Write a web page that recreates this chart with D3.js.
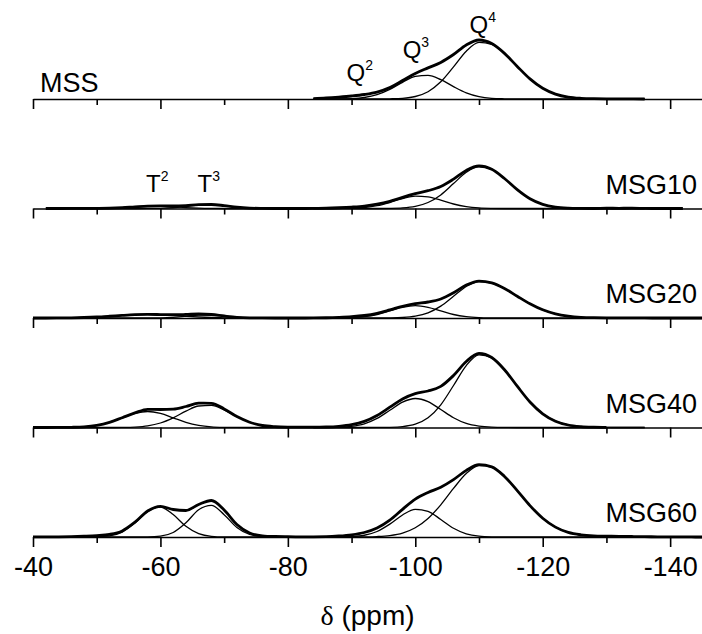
<!DOCTYPE html>
<html>
<head>
<meta charset="utf-8">
<script src="https://cdn.jsdelivr.net/npm/d3@7"></script>
<style>
  body { margin: 0; background: #fff; }
  text { font-family: "Liberation Sans", Arial, sans-serif; fill: #000; }
</style>
</head>
<body>
<div id="chart"></div>
<script>
// chemical shift grid (ppm) for the measured spectra
var ppm = [-40,-42,-44,-46,-48,-50,-52,-54,-56,-58,-60,-62,-64,-66,-68,-70,-72,-74,-76,-78,
           -80,-82,-84,-86,-88,-90,-92,-94,-96,-98,-100,-102,-104,-106,-108,-110,-112,-114,-116,-118,
           -120,-122,-124,-126,-128,-130,-132,-134,-136,-138,-140,-142,-144,-146];
// grids used by the fitted components
var tPpm = [-44,-46,-48,-50,-52,-54,-56,-58,-60,-62,-64,-66,-68,-70,-72,-74,-76,-78,-80];
var qPpm = [-84,-86,-88,-90,-92,-94,-96,-98,-100,-102,-104,-106,-108,-110,-112,-114,-116,-118,-120,-122,
            -124,-126,-128,-130,-132,-134,-136];

var samples = ["MSS", "MSG10", "MSG20", "MSG40", "MSG60"];
var xTicks = [-40, -60, -80, -100, -120, -140];

// measured spectra (null = outside recorded range)
var mssSpec = [null,null,null,null,null,null,null,null,null,null,null,null,null,null,null,null,null,null,null,null,null,null,
  0.4,1.0,1.9,3.0,4.5,6.9,11.4,18.4,25.5,31.1,36.6,44.5,54.0,59.0,55.4,45.6,32.6,20.1,10.7,4.9,1.9,0.7,0.3,0.2,0.1,0.1,0,
  null,null,null,null,null];
var msg10Spec = [null,0,
  0,0.05,0.1,0.2,0.4,0.9,1.7,2.4,2.6,2.5,2.9,3.8,4.0,2.85,1.3,0.4,0.1,0,0,
  0,
  0.1,0.3,0.75,1.4,2.4,4.3,7.2,11.2,14.8,17.8,22.0,29.4,38.1,42.5,39.2,30.0,18.8,9.7,4.1,1.4,0.4,0.1,0,0.3,0.2,0.3,0.1,
  0,0,0,null,null];
var msg20Spec = [0,0,
  0.1,0.2,0.5,1.0,1.75,2.6,3.3,3.6,3.45,3.25,3.55,4.0,3.5,2.0,0.7,0.16,0.05,0,0,
  0,
  0.1,0.26,0.65,1.3,2.5,4.7,8.1,11.75,14.4,16.0,19.0,25.2,32.9,36.9,35.1,29.5,21.8,14.3,8.2,4.2,1.9,0.7,0.3,0.2,0.1,0.2,0.1,
  0,0,0,0,0];
var msg40Spec = [0,0,
  0.03,0.2,0.7,2.2,5.2,9.8,14.55,18.2,18.0,18.4,21.0,24.3,24.2,18.6,10.9,5.3,2.0,0.8,0.4,
  0.3,
  0.3,0.5,1.2,2.8,6.1,12.0,20.3,28.6,33.9,36.5,41.1,52.0,66.0,74.1,70.0,57.8,41.3,25.5,13.7,6.3,2.5,0.9,0.3,0.1,null,null,null,
  null,null,null,null,null];
var msg60Spec = [0.1,0.1,
  0.2,0.4,0.8,1.4,2.6,6.1,14.8,26.0,30.7,27.5,26.5,32.5,36.5,27.0,12.5,4.0,1.2,0.5,0.3,
  0.2,
  0.2,0.35,1.0,2.2,4.5,9.0,16.9,27.7,37.8,44.5,49.8,57.4,66.6,72.3,70.2,60.6,46.4,31.4,18.8,9.9,4.6,2.2,1.2,0.9,0.7,0.5,0.3,
  0.2,0.1,0.1,0,0];

// fitted components, T region (on tPpm)
var msg10T2 = [0,0,0.02,0.09,0.34,0.9,1.73,2.4,2.4,1.73,0.9,0.34,0.09,0.02,0,0,0,0,0];
var msg10T3 = [0,0,0,0,0,0,0,0.03,0.18,0.75,2.0,3.5,3.94,2.83,1.3,0.38,0.07,0,0];
var msg20T2 = [0.07,0.2,0.49,1.0,1.75,2.6,3.3,3.6,3.3,2.6,1.75,1.0,0.49,0.2,0.07,0.02,0,0,0];
var msg20T3 = [0,0,0,0,0,0,0,0,0.14,0.65,1.8,3.0,3.0,1.8,0.65,0.14,0.02,0,0];
var msg40T2 = [0.03,0.18,0.7,2.2,5.2,9.7,14.1,16,14.1,9.7,5.2,2.2,0.7,0.18,0.03,0,0,0,0];
var msg40T3 = [0,0,0,0,0,0.1,0.45,1.6,4.5,9.7,16.3,21.5,22.05,17.6,10.9,5.3,2.0,0.6,0.13];
var msg60T2 = [0,0,0.015,0.16,1.1,4.9,14.0,25.5,29.85,22.4,10.7,3.3,0.65,0.08,0,0,0,0,0];
var msg60T3 = [0,0,0,0,0,0,0,0.1,0.87,4.5,14.2,27.3,31.7,22.3,9.5,2.5,0.39,0.04,0];

// fitted components, Q region (on qPpm)
var mssQ3 = [0,0,0.1,0.4,1.5,4.3,9.6,16.7,22.6,23.7,19.4,12.4,6.2,2.4,0.7,0.2,0,0,0,0,0,0,0,0,0,0,0];
var mssQ4 = [0,0,0,0,0,0,0.2,0.7,2.5,7.3,17.2,32.1,47.8,56.6,54.7,45.4,32.6,20.1,10.7,4.9,1.9,0.7,0.2,0,0,0,0];
var msg10Q3 = [0,0,0.05,0.26,1.0,2.8,6.0,9.9,12.4,11.7,8.4,4.5,1.9,0.6,0.14,0,0,0,0,0,0,0,0,0,0,0,0];
var msg10Q4 = [0,0,0,0,0,0,0.13,0.58,2.1,6.0,13.6,24.9,36.2,41.9,39.1,30.0,18.8,9.7,4.1,1.4,0.4,0.1,0,0,0,0,0];
var msg20Q3 = [0,0,0.09,0.39,1.35,3.5,7.1,10.7,12.3,10.7,7.1,3.5,1.35,0.4,0.09,0,0,0,0,0,0,0,0,0,0,0,0];
var msg20Q4 = [0,0,0,0,0,0,0.11,0.5,1.8,5.2,11.9,21.7,31.5,36.5,35.0,29.5,21.8,14.3,8.2,4.2,1.9,0.7,0.25,0.1,0,0,0];
var msg40Q3 = [0,0.06,0.3,1.2,3.7,9.1,17.2,25.3,29.0,25.9,18.0,9.8,4.1,1.4,0.35,0.06,0,0,0,0,0,0,0,0,0,0,0];
var msg40Q4 = [0,0,0,0,0,0.03,0.2,0.9,3.3,9.7,22.7,42.0,61.9,72.7,69.7,57.7,41.3,25.5,13.7,6.3,2.5,0.88,0.26,0.07,0,0,0];
var msg60Q3 = [0,0,0.07,0.4,1.74,5.5,12.85,22.0,27.7,25.7,17.5,8.75,3.2,0.87,0.17,0,0,0,0,0,0,0,0,0,0,0,0];
var msg60Q4 = [0,0,0,0.03,0.13,0.47,1.46,3.9,9.2,18.5,32.2,48.6,63.4,71.4,70.0,60.6,46.4,31.4,18.8,9.9,4.6,1.9,0.7,0.2,0.06,0,0];

// peak labels: [panel, letter, superscript, ppm, height above baseline]
var qLabels = [["MSS", "Q", "2", -91.3, 18], ["MSS", "Q", "3", -100.1, 41], ["MSS", "Q", "4", -110.6, 66]];
var tLabels = [["MSG10", "T", "2", -59.5, 17], ["MSG10", "T", "3", -67.6, 17]];

var spectra = [mssSpec, msg10Spec, msg20Spec, msg40Spec, msg60Spec];
var components = [
    [[qPpm, mssQ3], [qPpm, mssQ4]],
    [[tPpm, msg10T2], [tPpm, msg10T3], [qPpm, msg10Q3], [qPpm, msg10Q4]],
    [[tPpm, msg20T2], [tPpm, msg20T3], [qPpm, msg20Q3], [qPpm, msg20Q4]],
    [[tPpm, msg40T2], [tPpm, msg40T3], [qPpm, msg40Q3], [qPpm, msg40Q4]],
    [[tPpm, msg60T2], [tPpm, msg60T3], [qPpm, msg60Q3], [qPpm, msg60Q4]]
];

var width = 702, height = 634;
var margin = { left: 33, right: 0 };

var svg = d3.select("#chart").append("svg")
    .attr("width", width)
    .attr("height", height);

// clip in panel coordinates (each panel group is shifted to its baseline)
svg.append("clipPath").attr("id", "clip")
    .append("rect").attr("x", margin.left - 1).attr("y", -height)
    .attr("width", width - margin.left + 1).attr("height", 2 * height);

var x = d3.scaleLinear().domain([-40, -145]).range([margin.left, width - margin.right]);
// vertical position of each stacked panel baseline
var panelY = d3.scalePoint().domain(samples).range([99, 537]);
// intensity, in the same units for every panel
var y = d3.scaleLinear().domain([0, 100]).range([0, -100]);

var line = d3.line()
    .defined(function (d) { return d[1] != null; })
    .x(function (d) { return x(d[0]); })
    .y(function (d) { return y(d[1]); })
    .curve(d3.curveMonotoneX);

samples.forEach(function (name, i) {
    var g = svg.append("g")
        .attr("transform", "translate(0," + panelY(name) + ")");

    // baseline axis with ticks
    var axis = d3.axisBottom(x)
        .tickValues(d3.range(-40, -141, -10))
        .tickSize(10)
        .tickSizeOuter(0)
        .tickFormat(i == samples.length - 1 ? function (d) { return xTicks.indexOf(d) >= 0 ? d : ""; } : "");
    var ax = g.append("g").call(axis);
    ax.select(".domain").attr("stroke-width", 1.6);
    ax.selectAll(".tick line")
        .attr("stroke-width", 1.6)
        .attr("y2", function (d) { return xTicks.indexOf(d) >= 0 ? 10 : 6; });
    ax.selectAll(".tick text")
        .attr("y", 20)
        .style("font-family", "'Liberation Sans', Arial, sans-serif")
        .style("font-size", "27px")
        .attr("fill", "#000");

    var plot = g.append("g").attr("clip-path", "url(#clip)");

    // fitted components, thin
    components[i].forEach(function (c) {
        plot.append("path")
            .datum(c[0].map(function (p, k) { return [p, c[1][k]]; }))
            .attr("fill", "none")
            .attr("stroke", "#000")
            .attr("stroke-width", 1.3)
            .attr("d", line);
    });

    // measured spectrum, thick
    plot.append("path")
        .datum(ppm.map(function (p, k) { return [p, spectra[i][k]]; }))
        .attr("fill", "none")
        .attr("stroke", "#000")
        .attr("stroke-width", 2.8)
        .attr("stroke-linejoin", "round")
        .attr("d", line);

    // sample name
    var first = i == 0;
    g.append("text")
        .attr("x", first ? 40 : 697)
        .attr("y", first ? -7 : -15)
        .attr("text-anchor", first ? "start" : "end")
        .style("font-size", "27px")
        .text(name);
});

// Q / T peak labels
qLabels.concat(tLabels).forEach(function (l) {
    var t = svg.append("text")
        .attr("x", x(l[3]))
        .attr("y", panelY(l[0]) - l[4])
        .attr("text-anchor", "middle")
        .style("font-size", "24px");
    t.append("tspan").text(l[1]);
    t.append("tspan")
        .attr("dy", -11)
        .style("font-size", "14px")
        .text(l[2]);
});

// x axis title
var title = svg.append("text")
    .attr("x", (x.range()[0] + x.range()[1]) / 2)
    .attr("y", 625)
    .attr("text-anchor", "middle")
    .style("font-size", "28px");
title.append("tspan").style("font-family", "'Liberation Serif', serif").text("δ");
title.append("tspan").text(" (ppm)");
</script>
</body>
</html>
